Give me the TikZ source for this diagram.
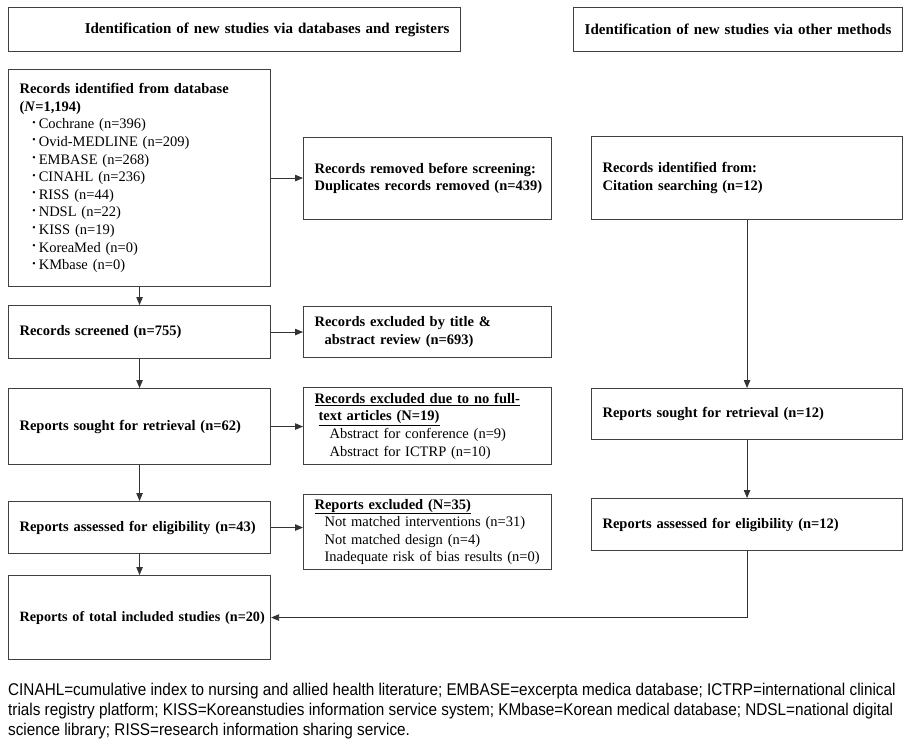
\documentclass[tikz,border=0pt]{standalone}
\usepackage{fontspec}
\setmainfont{Liberation Serif}
\newfontfamily\notefont[FakeStretch=0.9]{Liberation Sans}
\usetikzlibrary{arrows.meta, positioning}

\tikzset{
	box/.style={draw=black!75, line width=1.1pt, anchor=north west, inner xsep=11pt, inner ysep=0pt,
		align=left, font=\fontsize{14.5}{17.6}\selectfont\bfseries},
	head/.style={box, font=\fontsize{15}{18}\selectfont\bfseries},
	flow/.style={draw=black!80, line width=0.8pt, -{Triangle[length=8pt,width=6.5pt]}},
	note/.style={anchor=west, inner sep=0pt, font=\notefont\fontsize{17}{20}\selectfont},
}
\newcommand{\dbitem}[1]{\hspace*{12pt}\raisebox{1.5pt}{\textperiodcentered}\,{\mdseries #1}}

\begin{document}
\begin{tikzpicture}[x=1pt, y=-1pt]
	\useasboundingbox[fill=white] (0,0) rectangle (909,738);
	% headers
	\node[head, text width=430pt, minimum height=44pt, align=right] (hdrl) at (8,7)
		{\mbox{Identification of new studies via databases and registers}};
	\node[head, text width=307pt, minimum height=44pt, align=center] (hdrr) at (573,7)
		{\mbox{Identification of new studies via other methods}};
	% databases and registers
	\node[box, text width=240pt, minimum height=217pt] (recdb) at (8,69)
		{Records identified from database\\
		(\textit{N}=1,194)\\
		\dbitem{Cochrane (n=396)}\\
		\dbitem{Ovid-MEDLINE (n=209)}\\
		\dbitem{EMBASE (n=268)}\\
		\dbitem{CINAHL (n=236)}\\
		\dbitem{RISS (n=44)}\\
		\dbitem{NDSL (n=22)}\\
		\dbitem{KISS (n=19)}\\
		\dbitem{KoreaMed (n=0)}\\
		\dbitem{KMbase (n=0)}};
	\node[box, text width=226pt, minimum height=82pt] (removed) at (303,137)
		{\mbox{Records removed before screening:}\\
		\mbox{Duplicates records removed (n=439)}};
	\node[box, text width=240pt, minimum height=53pt] (screened) at (8,305)
		{Records screened (n=755)};
	\node[box, text width=226pt, minimum height=51pt] (excltitle) at (303,306)
		{Records excluded by title \&\\
		\hspace*{10pt}abstract review (n=693)};
	\node[box, text width=240pt, minimum height=76pt] (soughtl) at (8,388)
		{Reports sought for retrieval (n=62)};
	\node[box, text width=226pt, minimum height=77pt] (exclfull) at (303,387)
		{\mbox{\underline{Records excluded due to no full-}}\\
		\hspace*{4pt}\underline{text articles (N=19)}\\
		{\mdseries\hspace*{15pt}Abstract for conference (n=9)}\\
		{\mdseries\hspace*{15pt}Abstract for ICTRP (n=10)}};
	\node[box, text width=240pt, minimum height=52pt] (assessl) at (8,501)
		{\mbox{Reports assessed for eligibility (n=43)}};
	\node[box, text width=226pt, minimum height=75pt] (exclrep) at (303,494)
		{\underline{Reports excluded (N=35)}\\
		{\mdseries\hspace*{10pt}Not matched interventions (n=31)}\\
		{\mdseries\hspace*{10pt}Not matched design (n=4)}\\
		{\mdseries\hspace*{10pt}\mbox{Inadequate risk of bias results (n=0)}}};
	\node[box, text width=240pt, minimum height=84pt] (total) at (8,575)
		{\mbox{\fontsize{14.2}{17.6}\selectfont Reports of total included studies (n=20)}};
	% other methods
	\node[box, text width=289pt, minimum height=83pt] (citation) at (591,136)
		{Records identified from:\\
		Citation searching (n=12)};
	\node[box, text width=289pt, minimum height=51pt] (soughtr) at (591,388)
		{Reports sought for retrieval (n=12)};
	\node[box, text width=289pt, minimum height=52pt] (assessr) at (591,498)
		{Reports assessed for eligibility (n=12)};
	% connectors
	\draw[flow] (recdb.south) -- (screened.north);
	\draw[flow] (screened.south) -- (soughtl.north);
	\draw[flow] (soughtl.south) -- (assessl.north);
	\draw[flow] (assessl.south) -- (total.north);
	\draw[flow] (recdb.east) -- (recdb.east -| removed.west);
	\draw[flow] (screened.east) -- (screened.east -| excltitle.west);
	\draw[flow] (soughtl.east) -- (soughtl.east -| exclfull.west);
	\draw[flow] (assessl.east) -- (assessl.east -| exclrep.west);
	\draw[flow] (citation.south) -- (soughtr.north);
	\draw[flow] (soughtr.south) -- (assessr.north);
	\draw[flow] (assessr.south) -- (assessr.south |- total.east) -- (total.east);
	% abbreviations
	\node[note] (note1) at (8,691) {CINAHL=cumulative index to nursing and allied health literature; EMBASE=excerpta medica database; ICTRP=international clinical};
	\node[note] (note2) at (8,711.5) {trials registry platform; KISS=Koreanstudies information service system; KMbase=Korean medical database; NDSL=national digital};
	\node[note] (note3) at (8,731.5) {science library; RISS=research information sharing service.};
\end{tikzpicture}
\end{document}
